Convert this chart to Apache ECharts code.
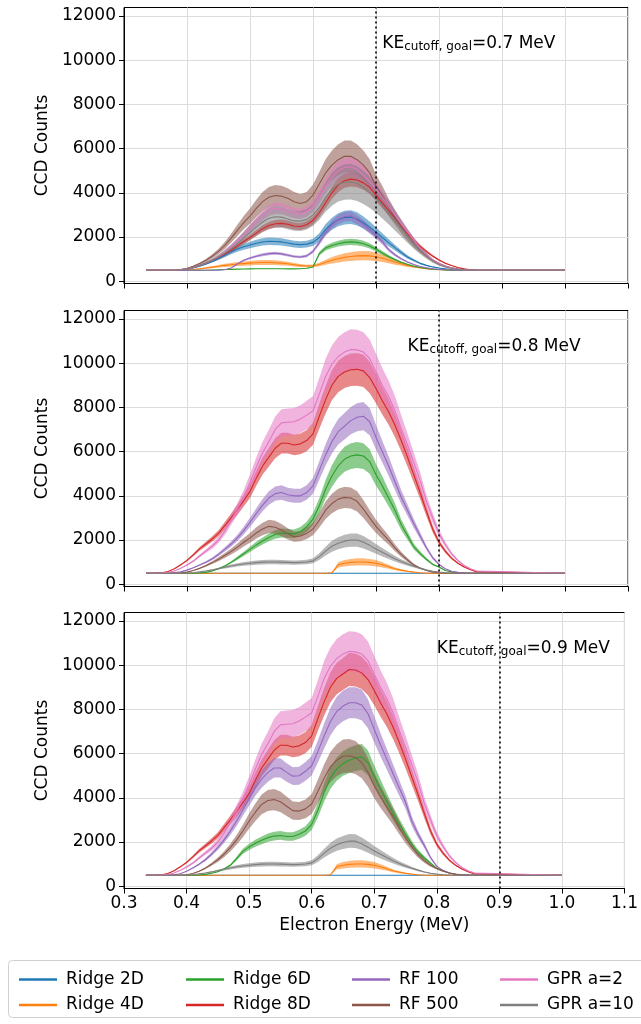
<!DOCTYPE html>
<html>
<head>
<meta charset="utf-8">
<script src="https://cdn.jsdelivr.net/npm/echarts@6/dist/echarts.min.js"></script>
<style>
  html, body { margin: 0; padding: 0; background: #fff; }
  #chart { width: 641px; height: 1024px; }
</style>
</head>
<body>
<div id="chart"></div>
<script>
// Electron energy grid (MeV) shared by every spectrum
const energy = [0.335,
  0.34, 0.35, 0.36, 0.37, 0.38, 0.39,
  0.40, 0.41, 0.42, 0.43, 0.44, 0.45, 0.46, 0.47, 0.48, 0.49,
  0.50, 0.51, 0.52, 0.53, 0.54, 0.55, 0.56, 0.57, 0.58, 0.59,
  0.60, 0.61, 0.62, 0.63, 0.64, 0.65, 0.66, 0.67, 0.68, 0.69,
  0.70, 0.71, 0.72, 0.73, 0.74, 0.75, 0.76, 0.77, 0.78, 0.79,
  0.80, 0.81, 0.82, 0.83, 0.84, 0.85, 0.86,
  1.00];

const seriesNames = ['Ridge 2D', 'Ridge 4D', 'Ridge 6D', 'Ridge 8D', 'RF 100', 'RF 500', 'GPR a=2', 'GPR a=10'];
const cutoffs = [0.7, 0.8, 0.9];
const yTicks = [0, 2000, 4000, 6000, 8000, 10000, 12000];

// Relative shot-to-shot scatter of each model's spectrum
const scatter = [0.13, 0.32, 0.11, 0.08, 0.09, 0.14, 0.09, 0.2];

// ---- KE cutoff goal 0.7 MeV ----
const c07_ridge2D = [500,
  500,500,500,500,500,510,
  540,600,680,780,900,1030,1180,1330,1460,1560,
  1640,1720,1780,1810,1800,1780,1730,1680,1660,1680,
  1760,1980,2350,2600,2780,2880,2900,2820,2650,2450,
  2220,1980,1750,1520,1300,1100,950,810,720,650,
  600,560,530,515,505,500,500,
  500];
const c07_ridge4D = [500,
  500,500,500,500,500,500,
  510,530,560,600,640,680,720,750,780,800,
  820,840,850,850,840,820,790,750,710,690,
  700,760,860,950,1020,1080,1120,1150,1160,1150,
  1110,1040,960,870,790,720,660,610,570,540,
  520,510,500,500,500,500,500,
  500];
const c07_ridge6D = [500,
  500,500,500,500,500,500,
  500,500,500,500,510,520,530,540,550,555,
  560,565,565,565,565,565,560,560,570,590,
  650,1250,1500,1620,1700,1760,1780,1760,1700,1600,
  1450,1280,1120,980,860,760,680,620,580,550,
  530,515,500,500,500,500,500,
  500];
const c07_ridge8D = [500,
  500,500,500,500,500,520,
  560,630,720,830,950,1080,1230,1400,1600,1800,
  1980,2180,2380,2520,2600,2620,2580,2500,2480,2560,
  2750,3100,3550,4000,4350,4550,4620,4580,4450,4250,
  3900,3550,3200,2850,2500,2150,1850,1580,1350,1140,
  960,820,710,620,560,520,505,
  500];
const c07_rf100 = [500,
  500,500,500,500,500,500,
  500,500,500,500,500,500,520,600,780,950,
  1050,1130,1200,1250,1270,1240,1180,1120,1100,1150,
  1350,1750,2200,2550,2800,2920,2950,2780,2580,2330,
  2070,1780,1430,1200,1020,870,760,670,610,570,
  545,525,510,505,500,500,500,
  500];
const c07_rf500 = [500,
  500,500,500,500,500,530,
  590,680,800,950,1130,1350,1620,1950,2300,2650,
  2950,3300,3600,3800,3880,3850,3750,3600,3520,3600,
  3900,4400,4900,5250,5500,5650,5650,5500,5250,4900,
  4300,3850,3350,2900,2450,2050,1700,1400,1150,950,
  800,690,610,560,530,510,500,
  500];
const c07_gpr2 = [500,
  500,500,500,500,500,520,
  560,630,720,830,960,1120,1320,1560,1820,2100,
  2400,2700,2980,3200,3300,3280,3180,3080,3050,3150,
  3380,3800,4300,4700,5000,5150,5180,5050,4800,4500,
  4180,3800,3400,3000,2620,2230,1870,1500,1200,960,
  800,680,600,550,525,510,500,
  500];
const c07_gpr10 = [500,
  500,500,500,500,500,520,
  560,630,720,830,950,1100,1270,1470,1700,1950,
  2200,2450,2680,2850,2920,2900,2820,2730,2720,2800,
  3000,3350,3800,4150,4380,4480,4500,4420,4250,4020,
  3750,3430,3100,2750,2400,2050,1720,1420,1150,920,
  760,650,580,540,520,505,500,
  500];

// ---- KE cutoff goal 0.8 MeV ----
const c08_ridge2D = [500,
  500,500,500,500,500,500,
  500,500,500,500,500,500,500,500,500,500,
  500,500,500,500,500,500,500,500,500,500,
  500,500,500,500,500,500,500,500,500,500,
  500,500,500,500,500,500,500,500,500,500,
  500,500,500,500,500,500,500,
  500];
const c08_ridge4D = [500,
  500,500,500,500,500,500,
  500,500,500,500,500,500,500,500,500,500,
  500,500,500,500,500,500,500,500,500,500,
  500,500,500,520,880,950,990,1010,1010,990,
  950,880,790,700,640,590,550,520,505,500,
  500,500,500,500,500,500,500,
  500];
const c08_ridge6D = [500,
  500,500,500,500,500,500,
  500,500,510,540,600,700,830,990,1180,1380,
  1580,1780,1960,2120,2250,2320,2300,2280,2380,2600,
  2950,3550,4300,4900,5350,5650,5800,5850,5800,5550,
  4950,4450,3900,3350,2700,2200,1700,1400,1130,900,
  780,620,560,530,510,500,500,
  500];
const c08_ridge8D = [500,
  500,500,520,580,700,880,
  1080,1330,1600,1820,2050,2300,2650,3000,3380,3780,
  4200,4800,5350,5750,6150,6380,6380,6300,6350,6500,
  6800,7600,8350,9000,9400,9600,9700,9720,9650,9350,
  8850,8300,7800,7200,6500,5750,4950,4150,3300,2500,
  1900,1500,1180,950,780,660,560,
  500];
const c08_rf100 = [500,
  500,500,500,500,520,560,
  640,750,870,1000,1150,1350,1580,1820,2100,2430,
  2800,3200,3580,3900,4100,4150,4050,4000,4000,4150,
  4450,5150,5850,6450,6900,7150,7400,7550,7600,7350,
  6650,6000,5350,4650,3950,3350,2750,2200,1650,1200,
  900,700,590,540,515,505,500,
  500];
const c08_rf500 = [500,
  500,500,500,500,500,510,
  550,620,720,840,980,1130,1300,1480,1680,1900,
  2100,2320,2500,2620,2580,2450,2280,2150,2180,2300,
  2500,2900,3350,3650,3850,3930,3900,3750,3400,3000,
  2620,2300,2000,1650,1350,1100,880,730,620,550,
  520,505,500,500,500,500,500,
  500];
const c08_gpr2 = [500,
  500,500,505,530,600,720,
  870,1050,1280,1500,1720,2000,2400,2900,3400,3950,
  4600,5300,5950,6450,7000,7300,7330,7350,7470,7650,
  7850,8600,9400,9950,10300,10500,10620,10600,10500,10200,
  9600,9000,8500,7850,7050,6300,5500,4700,3750,3000,
  2300,1800,1380,1080,850,700,600,
  500];
const c08_gpr10 = [500,
  500,500,500,500,500,500,
  500,520,560,600,650,710,770,830,880,920,
  950,980,1000,1010,1010,1000,990,980,990,1010,
  1060,1250,1500,1720,1860,1950,2000,2000,1900,1760,
  1600,1450,1300,1160,1030,920,820,730,650,590,
  550,525,510,500,500,500,500,
  500];

// ---- KE cutoff goal 0.9 MeV ----
const c09_ridge2D = [500,
  500,500,500,500,500,500,
  500,500,500,500,500,500,500,500,500,500,
  500,500,500,500,500,500,500,500,500,500,
  500,500,500,500,500,500,500,500,500,500,
  500,500,500,500,500,500,500,500,500,500,
  500,500,500,500,500,500,500,
  500];
const c09_ridge4D = [500,
  500,500,500,500,500,500,
  500,500,500,500,500,500,500,500,500,500,
  500,500,500,500,500,500,500,500,500,500,
  500,500,500,520,880,950,990,1010,1010,990,
  950,880,790,700,640,590,550,520,505,500,
  500,500,500,500,500,500,500,
  500];
const c09_ridge6D = [500,
  500,500,500,500,500,500,
  500,500,510,540,590,660,780,950,1250,1580,
  1780,1950,2080,2200,2270,2300,2250,2250,2350,2500,
  2800,3450,4250,4900,5300,5550,5700,5800,5850,5580,
  4980,4400,3850,3300,2800,2350,1900,1550,1280,1050,
  800,700,600,545,515,505,500,
  500];
const c09_ridge8D = [500,
  500,500,520,580,700,880,
  1080,1330,1600,1820,2050,2300,2650,3000,3380,3780,
  4200,4800,5350,5750,6150,6380,6380,6300,6350,6500,
  6800,7600,8350,9000,9400,9600,9800,9780,9650,9350,
  8850,8300,7800,7200,6500,5750,4950,4150,3300,2500,
  1900,1500,1180,950,780,660,560,
  500];
const c09_rf100 = [500,
  500,500,500,500,520,570,
  680,830,1000,1200,1450,1750,2100,2500,2950,3450,
  3950,4450,4850,5150,5350,5350,5150,4980,5000,5200,
  5450,6100,6800,7450,7900,8150,8300,8300,8200,7800,
  7100,6400,5750,5100,4450,3800,2950,2350,1850,1300,
  900,720,600,540,515,505,500,
  500];
const c09_rf500 = [500,
  500,500,500,500,500,500,
  520,580,680,820,1000,1200,1450,1750,2100,2500,
  2950,3350,3700,3880,3920,3820,3620,3420,3400,3500,
  3720,4300,4900,5400,5700,5880,5900,5820,5600,5150,
  4550,4050,3600,3150,2650,2180,1780,1420,1150,950,
  800,680,600,550,520,505,500,
  500];
const c09_gpr2 = [500,
  500,500,505,530,600,720,
  870,1050,1280,1500,1720,2000,2400,2900,3400,3950,
  4600,5300,5950,6450,7000,7300,7330,7350,7470,7650,
  7850,8600,9400,9950,10300,10500,10620,10600,10500,10200,
  9600,9000,8500,7850,7050,6300,5500,4700,3750,3000,
  2300,1800,1380,1080,850,700,600,
  500];
const c09_gpr10 = [500,
  500,500,500,500,500,500,
  500,520,560,600,650,710,770,830,880,920,
  950,980,1000,1010,1010,1000,990,980,990,1010,
  1060,1250,1500,1720,1880,1980,2050,2040,1920,1770,
  1600,1450,1300,1160,1030,920,820,730,650,590,
  550,525,510,500,500,500,500,
  500];

const panels = [
  [c07_ridge2D, c07_ridge4D, c07_ridge6D, c07_ridge8D, c07_rf100, c07_rf500, c07_gpr2, c07_gpr10],
  [c08_ridge2D, c08_ridge4D, c08_ridge6D, c08_ridge8D, c08_rf100, c08_rf500, c08_gpr2, c08_gpr10],
  [c09_ridge2D, c09_ridge4D, c09_ridge6D, c09_ridge8D, c09_rf100, c09_rf500, c09_gpr2, c09_gpr10]
];

// ---- styling ----
const FONT = 'DejaVu Sans';
const colors = ['#1f77b4', '#ff7f0e', '#2ca02c', '#d62728', '#9467bd', '#8c564b', '#e377c2', '#7f7f7f'];
const BASE = 500;
const gridTops = [7.5, 310.5, 612.5];
const gridHeight = 276;
const labelX = [0.71, 0.75, 0.80];
const labelY = 10800;

const chart = echarts.init(document.getElementById('chart'), null, { renderer: 'canvas' });

const grids = [], xAxes = [], yAxes = [], series = [];

panels.forEach((panel, p) => {
  grids.push({ left: 124, right: 13, top: gridTops[p], height: gridHeight,
    show: true, borderColor: '#000', borderWidth: 1, backgroundColor: 'transparent' });

  xAxes.push({
    type: 'value', gridIndex: p, min: 0.3, max: 1.1, interval: 0.1,
    name: p === 2 ? 'Electron Energy (MeV)' : '',
    nameLocation: 'middle', nameGap: 29,
    nameTextStyle: { fontFamily: FONT, fontSize: 17, color: '#000' },
    axisLine: { show: true, onZero: false, lineStyle: { color: '#000', width: 1 } },
    axisTick: { show: true, length: 5, lineStyle: { color: '#000' } },
    axisLabel: { show: p === 2, fontFamily: FONT, fontSize: 17, color: '#000', margin: 7,
      formatter: v => v.toFixed(1) },
    splitLine: { show: true, lineStyle: { color: '#dcdcdc', width: 1 } }
  });

  yAxes.push({
    type: 'value', gridIndex: p, min: -100, max: 12380, splitNumber: 6,
    name: 'CCD Counts', nameLocation: 'middle', nameGap: 68,
    nameTextStyle: { fontFamily: FONT, fontSize: 17, color: '#000' },
    axisLine: { show: true, lineStyle: { color: '#000', width: 1 } },
    axisTick: { show: true, length: 5, customValues: yTicks, lineStyle: { color: '#000' } },
    axisLabel: { fontFamily: FONT, fontSize: 17, color: '#000', margin: 8,
      customValues: yTicks, formatter: v => String(v) },
    splitLine: { show: true, lineStyle: { color: '#dcdcdc', width: 1 } }
  });

  panel.forEach((vals, s) => {
    const color = colors[s];
    const f = scatter[s];
    const lo = vals.map(v => v - f * (v - BASE));
    const hi = vals.map(v => v + f * (v - BASE));

    // scatter band of the spectrum
    series.push({
      type: 'custom', name: seriesNames[s] + ' band',
      xAxisIndex: p, yAxisIndex: p, silent: true,
      dimensions: ['e', 'lo', 'hi'],
      encode: { x: 0, y: [1, 2] },
      data: energy.map((e, i) => [e, lo[i], hi[i]]),
      renderItem: (params, api) => {
        if (params.dataIndex !== 0) return null;
        const pts = [];
        for (let i = 0; i < energy.length; i++) pts.push(api.coord([energy[i], hi[i]]));
        for (let i = energy.length - 1; i >= 0; i--) pts.push(api.coord([energy[i], lo[i]]));
        return { type: 'polygon', shape: { points: pts },
          style: { fill: color, opacity: 0.55 } };
      }
    });

    // spectrum line
    const line = {
      type: 'line', name: seriesNames[s],
      xAxisIndex: p, yAxisIndex: p,
      data: energy.map((e, i) => [e, vals[i]]),
      showSymbol: false, symbol: 'none',
      color: color,
      itemStyle: { color: color },
      lineStyle: { color: color, width: 1.1 },
      emphasis: { disabled: true }
    };
    if (s === panel.length - 1) {
      line.markLine = {
        silent: true, symbol: ['none', 'none'],
        label: { show: false },
        lineStyle: { color: '#000', type: [2, 3], width: 1.6 },
        data: [{ xAxis: cutoffs[p] }]
      };
    }
    series.push(line);
  });
});

const legendLeft = [14, 181, 347, 495];
const legends = legendLeft.map((left, k) => ({
  orient: 'vertical', left: left, top: 966,
  itemGap: 8.5, itemWidth: 38, itemHeight: 2.5, icon: 'rect',
  selectedMode: false,
  textStyle: { fontFamily: FONT, fontSize: 17, color: '#000', padding: [0, 0, 0, 4] },
  data: [seriesNames[2 * k], seriesNames[2 * k + 1]]
}));

const legendFrame = {
  type: 'rect', z: -1, silent: true,
  shape: { x: 8.5, y: 960.5, width: 640, height: 57, r: 4 },
  style: { fill: '#fff', stroke: '#d0d0d0', lineWidth: 1 }
};

chart.setOption({
  animation: false,
  backgroundColor: '#fff',
  grid: grids,
  xAxis: xAxes,
  yAxis: yAxes,
  legend: legends,
  graphic: [legendFrame],
  series: series
});

// cutoff-goal annotations anchored in data coordinates
const notes = cutoffs.map((c, p) => {
  const pt = chart.convertToPixel({ xAxisIndex: p, yAxisIndex: p }, [labelX[p], labelY]);
  return {
    type: 'text', x: pt[0], y: pt[1], z: 10, silent: true,
    style: {
      text: '{ke|KE}{sub|cutoff, goal}{ke|=' + c.toFixed(1) + ' MeV}',
      verticalAlign: 'middle', align: 'left',
      rich: {
        ke: { fontFamily: FONT, fontSize: 17, color: '#000', lineHeight: 20, verticalAlign: 'bottom' },
        sub: { fontFamily: FONT, fontSize: 12, color: '#000', lineHeight: 12, verticalAlign: 'bottom' }
      }
    }
  };
});
chart.setOption({ graphic: [legendFrame].concat(notes) });
</script>
</body>
</html>
